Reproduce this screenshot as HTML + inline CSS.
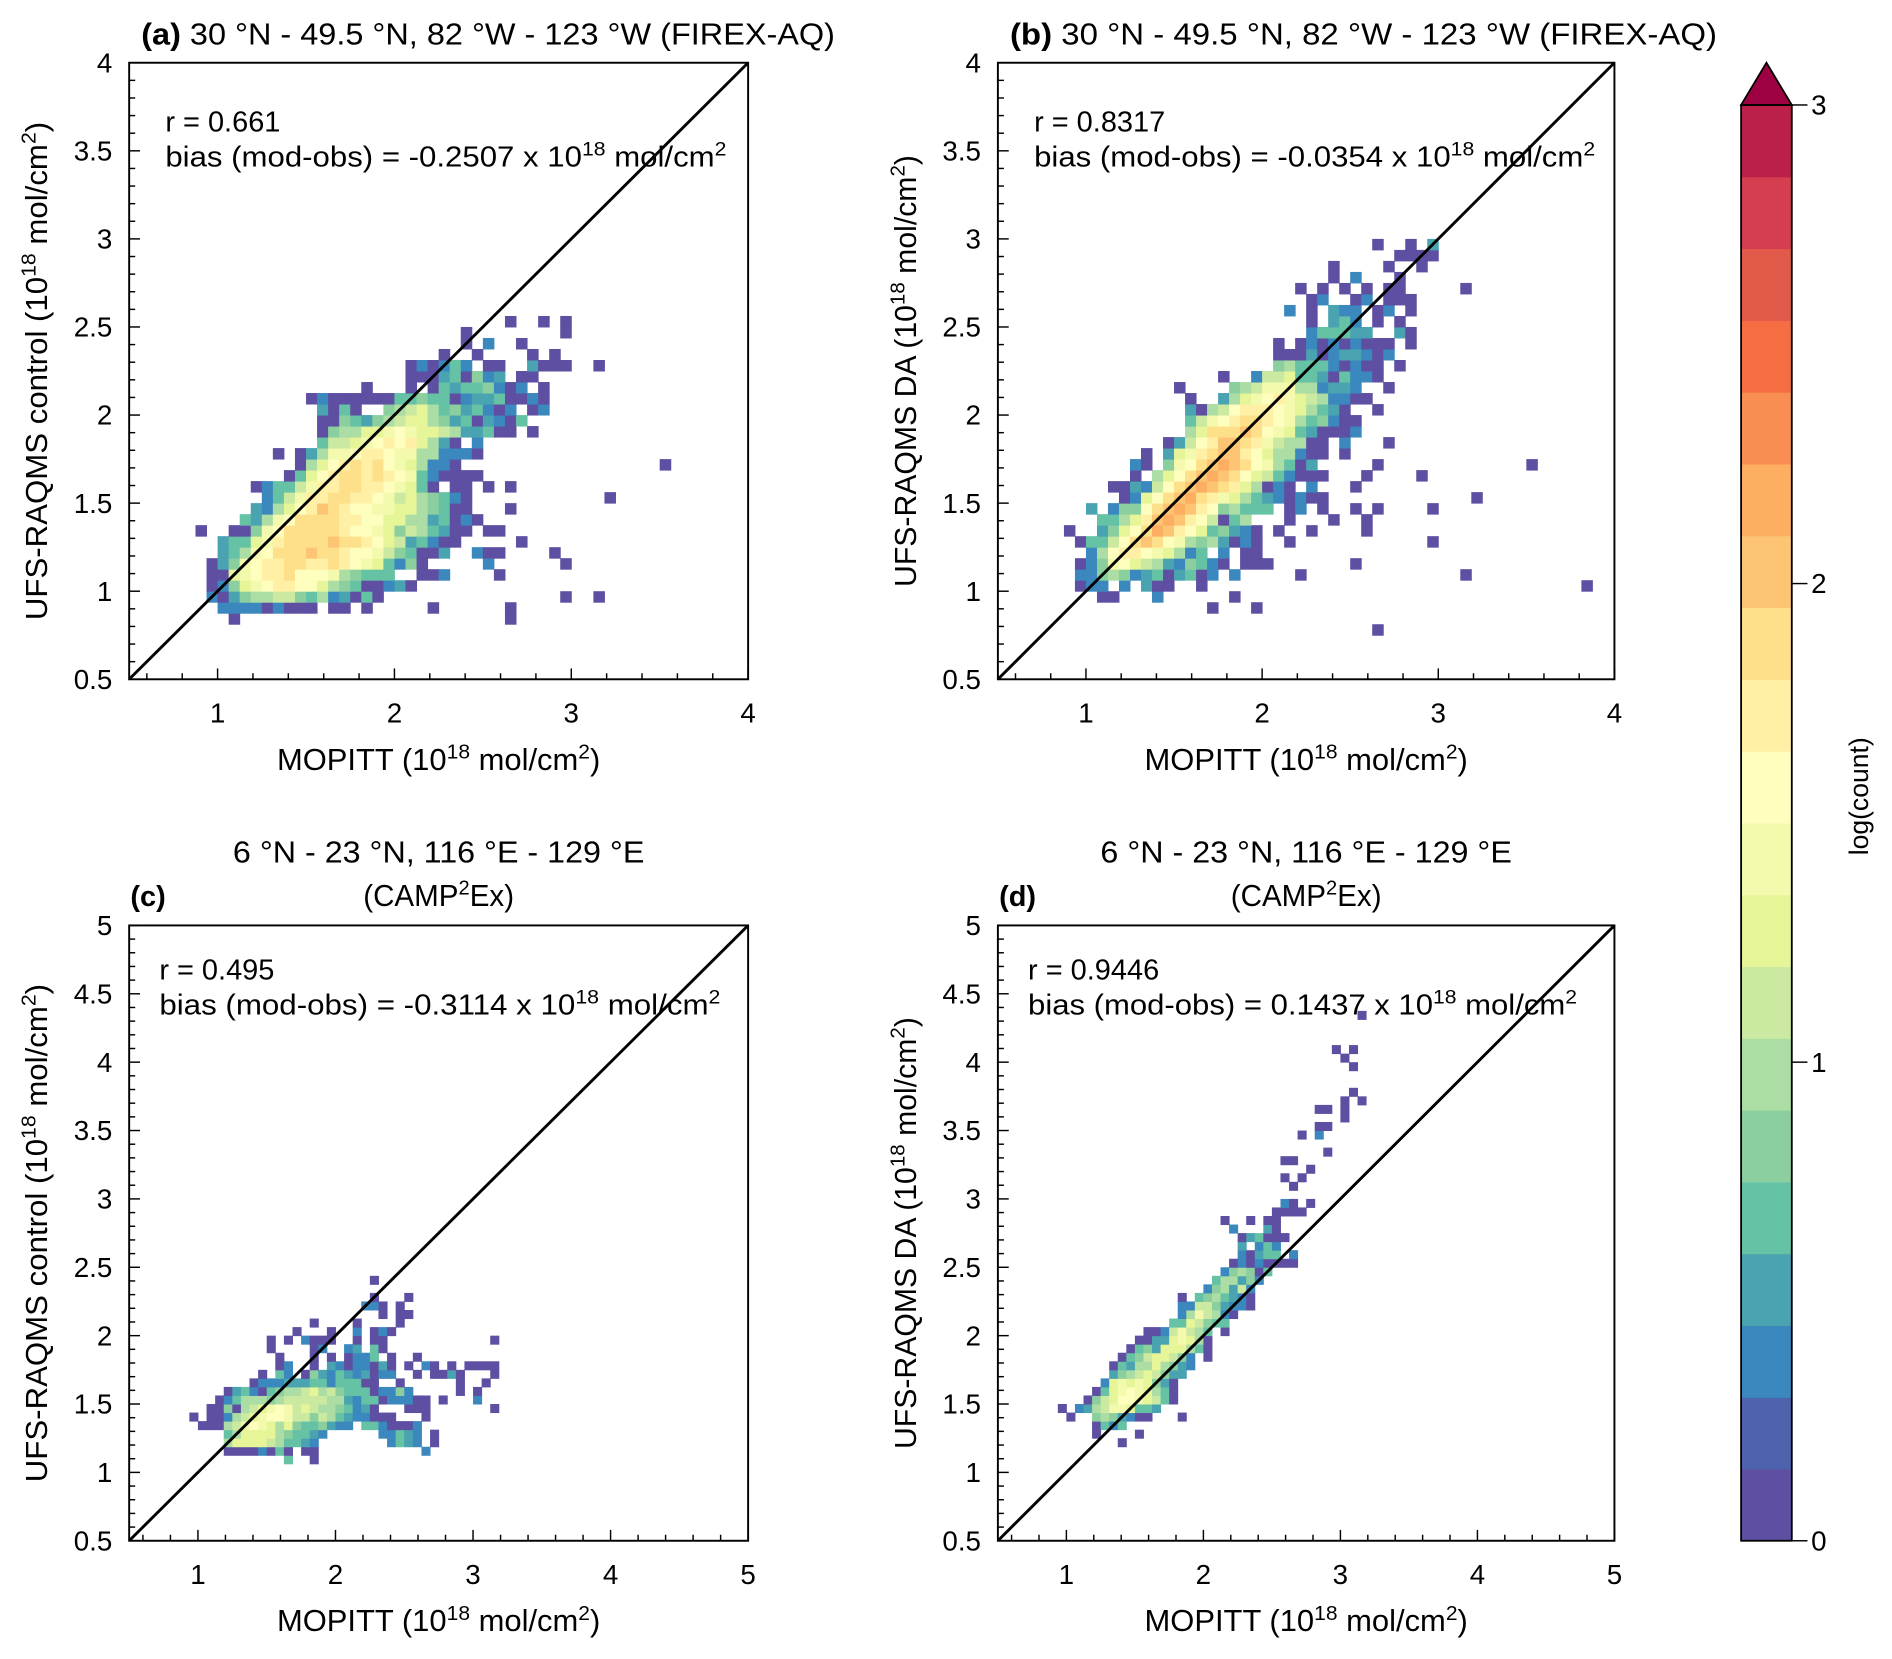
<!DOCTYPE html>
<html><head><meta charset="utf-8"><style>
html,body{margin:0;padding:0;background:#fff;}
svg{display:block;}
text{font-family:"Liberation Sans",Arial,sans-serif;fill:#000;}
</style></head><body>
<svg id="fig" xmlns="http://www.w3.org/2000/svg" width="1892" height="1659" viewBox="0 0 1568 1375">
<rect x="0" y="0" width="1568" height="1375" fill="#fff"/>
<g id="panels"></g>
<g id="cbar"></g>
</svg>
<script>
const levelColors = ["#5e4fa2","#4d63ad","#3a88bd","#4aa3b0","#66c2a5","#8ccf9f","#abdda4","#cbe9a0","#e6f598","#f3faad","#fefebf","#fff0a6","#fee08b","#fdc474","#fdae61","#f98e52","#f46d43","#e25a4a","#d53e4f","#bb2049"];
const colorbarTicks = [0,1,2,3];
const binSize = 0.0625;
const abTicksY = [0.5,1,1.5,2,2.5,3,3.5,4];
const abTicksX = [1,2,3,4];
const cdTicksY = [0.5,1,1.5,2,2.5,3,3.5,4,4.5,5];
const cdTicksX = [1,2,3,4,5];

const aRows = {
32:"28:0 31:0 33:0",31:"24:0 33:0",30:"24:0 26:2 29:0",29:"22:0 25:0 30:0 32:0",
28:"19:0 20:2 21:0 22:2 23:4 24:2 26-27:0 30:3 31-33:0 36:0",
27:"19-21:0 22:3 23:4 24:0 25:5 26:2 27:3 29-30:0",
26:"15:0 19:0 21:0 22:4 23:3 24-25:4 26:5 27:2 28:0 29:2 31:0",
25:"10:0 11:2 12-17:0 18:4 19:4 20:5 21-22:4 23:0 24:2 25-26:3 27:4 28-29:0 30:2 31:0",
24:"11:3 12:0 13:4 14:0 17:5 18:6 19:7 20:8 21:6 22:4 23:5 24:3 25:4 26:2 27:0 28:2 30:0 31:2",
23:"11-12:0 13:5 14:4 15:3 16:5 17:6 18:7 19:8 20:8 21:6 22:5 23:3 24:4 25:0 26:3 27:2 28:0 29:4",
22:"11:0 12:5 13-14:6 15-16:8 17:9 18:a 19:9 20-21:8 22:7 23:6 24-25:3 26:4 27-28:0 30:0",
21:"11:4 12-13:7 14:8 15:9 16:a 17:b 18:a 19:b 20:8 21:6 22:3 23:0 25:2",
20:"7:0 9:0 10:3 11:6 12-13:9 14:a 15-16:b 17:a 18-19:9 20-21:6 22-24:2 25:0",
19:"9:0 10:6 11:8 12:a 13:b 14:c 15:b 16:c 17:a 18:9 19:8 20:6 21-22:2 23:0 42:0",
18:"8:0 9:4 10:8 11:a 12:b 13-14:c 15:b 16:c 17:b 18:a 19:9 20:4 21:2 22-25:0",
17:"5:0 6:2 7-8:4 9:7 10:9 11-12:b 13-14:c 15-16:b 17:a 18:9 19:8 20:4 21:0 23-24:0 26:0 28:0",
16:"6:2 7:4 8:7 9:9 10-11:b 12-13:c 14-15:b 16:a 17:9 18:7 19:8 20:6 21:5 22:4 23:2 24:0 37:0",
15:"5:3 6:2 7:6 8:8 9:a 10:b 11:d 12:c 13:b 14-15:a 16-17:9 18-19:8 20:6 21:5 22:4 23-24:0 28:0",
14:"4:4 5:3 6:6 7:9 8:a 9-12:c 13-14:b 15-16:a 17-18:8 19-20:6 21:3 22:4 23:0 24:2 25:0",
13:"0:0 3-4:0 5:5 6:9 7:a 8-12:c 13:b 14-15:a 16:9 17:8 18:5 19:7 20:6 21:4 22:3 23-24:0 26-27:0",
12:"2:3 3-4:4 5:8 6:9 7:b 8-11:c 12:d 13-14:c 15:b 16:a 17:8 18:7 19:3 20:4 21:2 22-23:0 29:0",
11:"2:3 3:4 4:6 5:9 6:a 7-9:c 10:d 11-12:c 13:b 14-15:a 16:9 17:7 18:5 19:4 20-21:0 22:3 25:2 26-27:0 32:0",
10:"1:0 2:3 3:5 4:9 5:a 6-7:b 8-9:c 10-11:b 12:c 13:b 14:a 15:9 16:8 17:4 18:2 19:5 20:0 26:2 33:0",
9:"1-2:0 3:8 4:9 5:a 6-7:b 8:c 9-11:a 12:9 13:6 14:5 15-17:4 20-21:0 22:2 27:0",
8:"1:0 2:2 3:5 4:8 5:9 6:a 7-8:b 9-10:a 11:8 12:6 13:5 14:4 15-16:0 17:2 18:3 19:0",
7:"1:2 2:0 3:3 4:5 5-6:6 7-8:7 9:5 10:4 11:6 12:2 13:3 14:0 15:4 16:0 33:0 36:0",
6:"2-5:2 6:0 7:2 8-10:0 12-13:0 15:0 21:0 28:0",
5:"3:0 28:0"
};
const bRows = {
39:"28:0 31:0 33:3",38:"30-33:0",37:"24:0 29:0 32:0",36:"24:0 26:2 30:0",
35:"21:0 23:0 25:0 27:0 29-30:0 36:0",34:"22:0 23:2 26:0 27:2 29-31:0",
33:"20:2 22:0 24:3 25-26:2 28:0 29:2 31:0",32:"22:0 24:3 25:4 26:2 28:0 30:0",
31:"22:2 23-25:4 26-27:3 30:3 31:0",30:"19:0 21:0 22:2 23:0 24:2 25:0 26:2 27:0 28-29:0 31:0",
29:"19-21:0 22:3 23:0 24:2 25-26:3 27:2 28:0 29:2",28:"19:5 20:6 21-23:4 24:2 25:0 26:2 27-28:0 30:0",
27:"14:0 17:2 18-19:7 20:8 21-22:4 23:3 24:0 25:4 26-27:2 28:0",
26:"10:0 15:5 16:6 17:7 18-20:9 21-22:6 23:2 24-25:3 26:2 29:0",
25:"11:0 14:3 15:6 16:8 17:9 18:a 19:b 20:9 21:8 22:7 23:6 24-25:2 26-27:0",
24:"11:3 12:0 13:6 14:7 15:a 16-18:b 19:a 20:9 21:8 22:6 23:4 24:3 25:0 28:0",
23:"11:4 12:7 13:9 14:a 15:b 16-17:c 18:b 19:a 20:9 21:6 22:4 23:5 24:2 25-26:0",
22:"11:6 12:8 13-15:c 16:d 17:c 18:a 19:9 20:8 21:4 22:3 23-25:0 26:2",
21:"9:0 10:3 11:7 12:a 13:b 14-15:d 16:c 17:b 18:9 19:7 20-21:6 22-23:0 25:2 29:0",
20:"7:0 9:3 10:8 11:9 12:b 13:c 14-15:d 16:b 17:a 18:8 19-20:6 21:2 22-23:0 25:0",
19:"6:2 7:0 9:5 10:9 11:a 12:c 13:d 14:e 15:d 16:c 17:a 18:9 19:6 20:4 21:0 22:3 28:0 42:0",
18:"6:0 8:6 9:8 10:a 11:c 12:d 13:e 14:d 15:c 16:a 17:8 18:7 19:4 20:2 21-23:0 27:0 32:0",
17:"4-5:0 6:3 7:2 8:7 9:a 10:c 11:d 12:e 13:d 14:c 15:b 16:8 17:6 18:0 19:2 20:0 22:2 26:0",
16:"5:0 6:2 7:8 8:a 9:c 10:d 11:e 12:c 13:b 14:9 15:8 16:6 17:4 18:3 19:2 20:0 21:2 22-23:0 37:0",
15:"2:3 4:2 5-6:5 7:a 8:c 9:d 10:e 11:d 12:b 13:a 14:5 15:6 16-18:4 20:0 21:2 23:0 26:0 28:0 33:0",
14:"3-4:4 5:6 6:8 7:b 8:d 9:e 10:d 11:b 12:a 13:7 14:0 15:4 16:6 20:0 24:0 27:0",
13:"0:0 3:3 4:5 5:8 6:a 7:c 8:e 9:d 10:b 11:a 12:8 13:4 14:5 15:3 16:2 17:0 19:0 22:0 27:0",
12:"1:0 2-3:4 4:7 5:a 6:c 7:d 8:c 9:a 10:9 11:6 12:5 13:6 14:3 15:0 16:2 17:0 20:0 33:0",
11:"2:2 3:6 4:a 5-6:b 7:a 8:9 9:8 10:6 11:2 12:4 14:2 16-17:0",
10:"1:0 2:2 3:5 4:9 5:a 6:8 7:7 8:6 9:3 10:2 11:5 12:4 13:2 14:0 16-18:0 26:0",
9:"1-2:2 3:5 4:6 5:5 6:2 7:3 8:4 9:0 10:3 11:4 12:0 13:2 15:2 21:0 36:0",
8:"1:0 2-3:2 5:2 7:3 8-9:0 12:0 47:0",7:"3-4:0 8:2 15:0",6:"13:0 17:0",4:"28:0"
};
const cRows = {
30:"21:0",28:"21:0 25:0",27:"20:2 21:2 22:0 24:0",26:"22:0 24:0 25:0",25:"14:0 19:0 24:0",
24:"12:0 16:0 19:2 21:0 22:2 23:0",23:"9:0 11:0 13:2 14-15:0 16:0 19:0 21-22:0 35:0",
22:"9:0 14:0 15:2 18:2 19:3 21:4 22:0",21:"10:0 14:0 16:0 18:0 19-20:2 21:4 23:0 26:0",
20:"10:0 11:2 14:0 16:3 17:2 18:0 19-20:2 21:0 22:3 23:0 25:0 27:2 28:0 30:0 32-35:0",
19:"8:0 10:4 11:2 13:0 14:5 15:3 16:2 17:4 18:3 19:2 20:3 21:0 22-23:2 26:0 28-29:0 30:3 31:0 35:0",
18:"7:0 8-10:2 11-13:3 14-15:4 16:2 17-19:4 20-21:0 24:0 31:0 34:0",
17:"4:0 5:3 6:4 7:2 8:0 9:4 10:5 11-12:6 13:7 14:8 15:6 16:7 17:5 18-20:4 21:0 22-23:2 24:5 25:2 31:0 33:0",
16:"3:0 4:2 5:4 6-8:6 9:5 10:6 11-15:7 16-17:6 18:3 19:2 20-21:4 22:0 23-25:2 26-27:0 29:0 33:2",
15:"2-3:0 4:5 5:0 6:6 7:7 8:8 9:9 10:a 11:9 12:7 13:8 14:7 15-16:6 17:5 18:4 19:2 20:3 21:0 25:0 26-27:0 35:0",
14:"0:0 2-3:0 4:2 5:6 6:7 7:8 8:9 9-10:a 11:9 12-13:7 14:5 15:7 16:6 17:4 18:3 19-20:2 21-23:0 27:0",
13:"1:0 2-3:0 4:6 5:7 6:9 7:a 8:9 9:8 10:6 11:8 12:5 13-14:4 15:5 16:3 17-18:2 20-21:4 22:2 23-25:0 26:2",
12:"4:4 5:6 6-9:8 10:6 11:5 12-13:4 14:3 15:2 22-23:2 24:4 25:3 26:2 28:0",
11:"4:6 5-8:8 9:7 10:6 11-12:4 13:3 14:2 23:2 24:4 25:3 26:2 28:0",
10:"4-7:0 8:2 9:0 10:4 11:0 13-14:0 27:2",9:"11:4 14:0"
};
const dRows = {
61:"35:0",57:"32:0 34:0",56:"33:0",55:"34:0",52:"34:0",51:"33:0 35:0",50:"30-31:0 33:0",49:"33:0",
48:"30-31:0",47:"28:0 30:2",45:"31:0",44:"26-27:0",43:"29:0",42:"26:0 28:0",41:"27:0",
39:"26:2 27:0 29:0",38:"25-28:0",37:"19:0 22:0 24:0 25:0",36:"20:2 24:3 25:0",
35:"21:0 22:3 23:4 24:0 25:0 26:0",34:"21:3 23:2 24:4 25:2",33:"21:2 22:0 23:3 24:4 25:4 27:2",
32:"20:0 21:2 22:0 23:2 24:0 25-27:0",31:"19:2 20:5 21:6 22:5 23:0 24:4",
30:"18:4 19:6 20:6 21:3 22:5 23:2",29:"17:2 18:5 19:6 20:3 21:7 22:2",
28:"14:0 16:4 17:5 18:6 19:4 20:3 21:2 22:0",27:"14:2 15:2 16:7 17:7 18:5 19:3 20:2 21:2 22:0",
26:"14:2 15:6 16:9 17:7 18:6 19:2 20:0",25:"13:4 14:4 15:8 16:7 17:5 18:4 19:4",
24:"10-11:0 12:2 13:7 14:9 15:7 16:6 17:4 19:0",23:"9-10:0 11:3 12:3 13:8 14:9 15:8 16:6 17:0",
22:"8:0 9:4 10:5 11:3 12:8 13:8 14:8 15:6 16:4 17:0",21:"7:0 8:4 9:5 10:7 11:8 12:8 13:7 14:5 15:2 17:0",
20:"6:0 7:4 8:3 9:6 10:6 11:8 12:6 13:5 14:3 15:2",19:"6:3 7:5 8:6 9:7 10:8 11:7 12:5 13:3 14:3",
18:"5:2 6:8 7:9 8:8 9:9 10:8 11:5 12:3 13:0",17:"4:0 5:4 6:8 7:9 8:a 9:9 10:8 11:6 12:4 13:0",
16:"3:0 4:5 5:7 6:8 7:a 8:a 9:9 10:8 11:7 12:4 13:0",15:"0:0 2:2 3:3 4:6 5:7 6:9 7:9 8:8 9-10:4 11:3",
14:"1:0 4:5 5:6 6:5 7:3 8:2 9-10:0 14:0",13:"4:0 5:4 6:2 7:4",12:"4:0 9:0",11:"7:0"
};

const NS="http://www.w3.org/2000/svg";
function mk(tag, attrs, parent){const e=document.createElementNS(NS,tag);for(const k in attrs)e.setAttribute(k,attrs[k]);if(parent)parent.appendChild(e);return e;}
function supText(parent,x,y,parts,size,anchor,len){
  const t=mk('text',{x:x,y:y,'font-size':size,'text-anchor':anchor||'start'},parent);
  if(len){t.setAttribute('textLength',len);t.setAttribute('lengthAdjust','spacingAndGlyphs');}
  parts.forEach(p=>{
    const s=mk('tspan',{},t);
    if(p.sup){s.setAttribute('dy',-size*0.38);s.setAttribute('font-size',size*0.68);}
    else if(p.after){s.setAttribute('dy',size*0.38);}
    if(p.bold)s.setAttribute('font-weight','bold');
    s.textContent=p.t;
  });
  return t;
}
function parseRow(str){const out=[];str.trim().split(/\s+/).forEach(tok=>{const [rng,v]=tok.split(':');const ab=rng.split('-').map(Number);const a=ab[0],b=ab.length>1?ab[1]:ab[0];for(let i=a;i<=b;i++)out.push([i,parseInt(v,20)]);});return out;}

const panels=[
 {id:'a',x0:107,x1:620,yt:52,yb:563,min:0.5,max:4,rows:aRows,off:6,ty:abTicksY,tx:abTicksX,ylab:'UFS-RAQMS control',r:'r = 0.661',bias:'-0.2507',title:'30 °N - 49.5 °N, 82 °W - 123 °W (FIREX-AQ)',tlen:575},
 {id:'b',x0:827,x1:1338,yt:52,yb:563,min:0.5,max:4,rows:bRows,off:6,ty:abTicksY,tx:abTicksX,ylab:'UFS-RAQMS DA',r:'r = 0.8317',bias:'-0.0354',title:'30 °N - 49.5 °N, 82 °W - 123 °W (FIREX-AQ)',tlen:586},
 {id:'c',x0:107,x1:620,yt:767,yb:1277,min:0.5,max:5,rows:cRows,off:7,ty:cdTicksY,tx:cdTicksX,ylab:'UFS-RAQMS control',r:'r = 0.495',bias:'-0.3114'},
 {id:'d',x0:827,x1:1338,yt:767,yb:1277,min:0.5,max:5,rows:dRows,off:7,ty:cdTicksY,tx:cdTicksX,ylab:'UFS-RAQMS DA',r:'r = 0.9446',bias:'0.1437'}
];
const root=document.getElementById('panels');
panels.forEach(p=>{
  const g=mk('g',{},root);
  
  
  const sx=v=>p.x0+(v-p.min)/(p.max-p.min)*(p.x1-p.x0);
  const sy=v=>p.yb-(v-p.min)/(p.max-p.min)*(p.yb-p.yt);
  const cells=mk('g',{},g);
  
  
  Object.keys(p.rows).forEach(rk=>{
    const r=Number(rk);
    parseRow(p.rows[rk]).forEach(([i,lv])=>{
      const xv=p.min+(p.off+i)*binSize, yv=p.min+r*binSize;
      const x=sx(xv), y=sy(yv+binSize), w=sx(xv+binSize)-x, h=sy(yv)-y;
      const c=mk('rect',{x:x,y:y,width:w+0.4,height:h+0.4,fill:levelColors[lv]},cells);
      
      
    });
  });
  const ln=mk('line',{x1:sx(p.min),y1:sy(p.min),x2:sx(p.max),y2:sy(p.max),stroke:'#000','stroke-width':2.4},g);
  
  
  const fr=mk('rect',{x:p.x0,y:p.yt,width:p.x1-p.x0,height:p.yb-p.yt,fill:'none',stroke:'#000','stroke-width':1.6},g);
  
  
  for(let k=0;k<=Math.round((p.max-p.min)*10);k++){const v=p.min+k*0.1;const maj=Math.abs(v*2-Math.round(v*2))<1e-6;const y=sy(v);mk('line',{x1:p.x0,y1:y,x2:p.x0+(maj?9:5),y2:y,stroke:'#000','stroke-width':1.2},g);}
  for(let k=1;k<=Math.round((p.max-p.min)*5);k++){const v=p.min+k*0.2-0.1;const vv=Math.round(v*10)/10;const maj=Math.abs(vv-Math.round(vv))<1e-6;const x=sx(vv);if(vv<=p.max+1e-6)mk('line',{x1:x,y1:p.yb,x2:x,y2:p.yb-(maj?9:5),stroke:'#000','stroke-width':1.2},g);}
  p.ty.forEach(v=>{const t=mk('text',{x:p.x0-14,y:sy(v)+8,'font-size':23,'text-anchor':'end'},g);t.textContent=String(v);});
  p.tx.forEach(v=>{const t=mk('text',{x:sx(v),y:p.yb+36,'font-size':23,'text-anchor':'middle'},g);t.textContent=String(v);});
  const cx=(p.x0+p.x1)/2, cy=(p.yt+p.yb)/2;
  const xt=supText(g,cx,p.yb+75,[{t:'MOPITT (10'},{t:'18',sup:true},{t:' mol/cm',after:true},{t:'2',sup:true},{t:')',after:true}],25,'middle',268);
  
  const yg=mk('g',{transform:`translate(${p.x0-68},${cy}) rotate(-90)`},g);
  const ylen=p.ylab.indexOf('control')>0?413:358;
  const yt=supText(yg,0,0,[{t:p.ylab+' (10'},{t:'18',sup:true},{t:' mol/cm',after:true},{t:'2',sup:true},{t:')',after:true}],25,'middle',ylen);
  
  const ax=p.x0+(p.id==='a'||p.id==='b'?30:25), ay=p.yt+(p.id==='a'||p.id==='b'?57:45);
  const rt=mk('text',{x:ax,y:ay,'font-size':24},g);rt.textContent=p.r;
  const bt=supText(g,ax,ay+29,[{t:'bias (mod-obs) = '+p.bias+' x 10'},{t:'18',sup:true},{t:' mol/cm',after:true},{t:'2',sup:true}],24,'start',p.id==='d'?455:465);
  
  if(p.title){
    const tt=supText(g,p.x0+10,37,[{t:'('+p.id+')',bold:true},{t:' '+p.title}],25,'start',p.tlen);
    
  } else {
    const t1=mk('text',{x:cx,y:715,'font-size':25,'text-anchor':'middle',textLength:341,lengthAdjust:'spacingAndGlyphs'},g);t1.textContent='6 °N - 23 °N, 116 °E - 129 °E';
    
    const t2=supText(g,cx,751,[{t:'(CAMP'},{t:'2',sup:true},{t:'Ex)',after:true}],25,'middle',125);
    
    const t3=mk('text',{x:p.x0+1,y:751,'font-size':24,'font-weight':'bold'},g);t3.textContent='('+p.id+')';
    
  }
});
const cb=document.getElementById('cbar');
const cbx0=1443,cbx1=1485,cbTop=87,cbBot=1277,cbMax=3;
const n=levelColors.length;
levelColors.forEach((col,k)=>{
  const y0=cbBot-(k+1)*(cbBot-cbTop)/n, h=(cbBot-cbTop)/n;
  const r=mk('rect',{x:cbx0,y:y0,width:cbx1-cbx0,height:h+0.5,fill:col},cb);
  
  
});
const arr=mk('polygon',{points:`${cbx0},${cbTop} ${(cbx0+cbx1)/2},52 ${cbx1},${cbTop}`,fill:'#9e0142',stroke:'#000','stroke-width':1.5},cb);


mk('rect',{x:cbx0,y:cbTop,width:cbx1-cbx0,height:cbBot-cbTop,fill:'none',stroke:'#000','stroke-width':1.5},cb);
colorbarTicks.forEach(v=>{
  const y=cbBot-v/cbMax*(cbBot-cbTop);
  mk('line',{x1:cbx1,y1:y,x2:cbx1+13,y2:y,stroke:'#000','stroke-width':1.2},cb);
  const t=mk('text',{x:cbx1+16,y:y+8,'font-size':23},cb);t.textContent=String(v);
  
  
});
const lg=mk('g',{transform:'translate(1548,660) rotate(-90)'},cb);
const lt=mk('text',{x:0,y:0,'font-size':22,'text-anchor':'middle'},lg);lt.textContent='log(count)';


</script>
</body></html>
